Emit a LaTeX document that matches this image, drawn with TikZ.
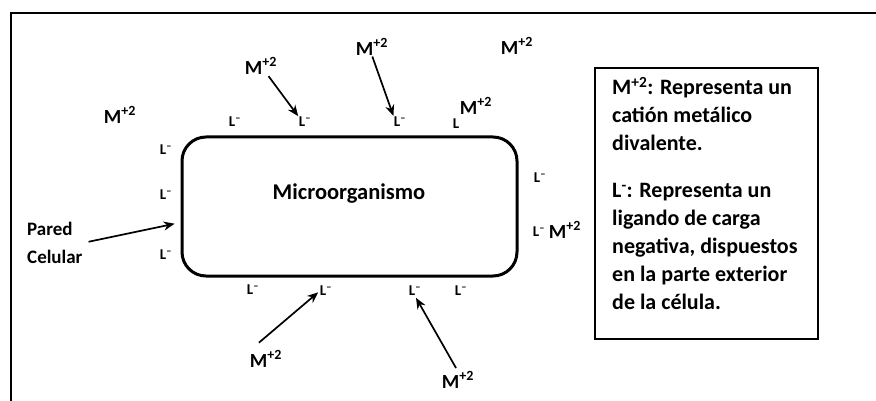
\documentclass[tikz,border=0pt]{standalone}
\usepackage{fontspec}
\setmainfont{Carlito}
\usetikzlibrary{arrows.meta}
\begin{document}
\begin{tikzpicture}[x=1pt,y=-1pt,
  ion/.style={font=\fontsize{20}{22}\selectfont\bfseries, inner sep=0pt},
  lig/.style={font=\fontsize{15}{17}\selectfont\bfseries, inner sep=0pt},
  arr/.style={-{Stealth[length=11pt,width=9pt]}, line width=1.7pt},
  txt/.style={font=\fontsize{22}{28}\selectfont\bfseries, inner sep=0pt, align=left},
]
\useasboundingbox (0,0) rectangle (876,401);
% outer frame (cropped)
\draw[line width=2.5pt] (890,13) -- (11,13) -- (11,415);
% cell
\node[draw, line width=3pt, rounded corners=24pt, minimum width=335pt, minimum height=139pt, inner sep=0pt] (cell) at (349.5,206.5) {};
\node[font=\fontsize{22.5}{24}\selectfont\bfseries, inner sep=0pt] (micro) at (349,194) {Microorganismo};
% legend
\node[draw, line width=1.6pt, minimum width=223pt, minimum height=271pt, inner sep=0pt] (legend) at (706.5,203.5) {};
\node[txt, anchor=north west] (legtext) at (612,77) {M\textsuperscript{+2}: Representa un\\cati\'on met\'alico\\divalente.\\[19pt]L\textsuperscript{-}: Representa un\\ligando de carga\\negativa, dispuestos\\en la parte exterior\\de la c\'elula.};
% ions
\node[ion] (m1) at (261,66) {M\textsuperscript{+2}};
\node[ion] (m2) at (372,47) {M\textsuperscript{+2}};
\node[ion] (m3) at (517,46) {M\textsuperscript{+2}};
\node[ion] (m4) at (120,115) {M\textsuperscript{+2}};
\node[ion] (m5) at (476,106) {M\textsuperscript{+2}};
\node[ion] (m6) at (266,359) {M\textsuperscript{+2}};
\node[ion] (m7) at (458,380) {M\textsuperscript{+2}};
\node[ion] (m8) at (565,230) {M\textsuperscript{+2}};
% ligands
\node[lig] (l1) at (235,122) {L\textsuperscript{\textendash}};
\node[lig] (l2) at (305,122) {L\textsuperscript{\textendash}};
\node[lig] (l3) at (400,122) {L\textsuperscript{\textendash}};
\node[lig] (l4) at (456,124) {L};
\node[lig] (l5) at (166,150) {L\textsuperscript{\textendash}};
\node[lig] (l6) at (166,195) {L\textsuperscript{\textendash}};
\node[lig] (l7) at (166,255) {L\textsuperscript{\textendash}};
\node[lig] (l8) at (540,178) {L\textsuperscript{\textendash}};
\node[lig] (l9) at (539,232) {L\textsuperscript{\textendash}};
\node[lig] (l10) at (253,290) {L\textsuperscript{\textendash}};
\node[lig] (l11) at (326,291) {L\textsuperscript{\textendash}};
\node[lig] (l12) at (415,291) {L\textsuperscript{\textendash}};
\node[lig] (l13) at (461,291) {L\textsuperscript{\textendash}};
% pared celular
\node[font=\fontsize{19}{28}\selectfont\bfseries, inner sep=0pt, align=left, anchor=west] (pared) at (27,243) {Pared\\Celular};
% arrows
\draw[arr, shorten <=2pt, shorten >=1pt] (m1) -- (l2.north west);
\draw[arr, shorten <=1pt, shorten >=1pt] (m2.south) -- (l3.north west);
\draw[arr, shorten <=6pt, shorten >=6pt] (pared.east) -- ([yshift=-16pt]cell.west);
\draw[arr, shorten <=12pt, shorten >=2pt] (m6.north west) -- (l11.west);
\draw[arr, shorten <=4pt, shorten >=2pt] (m7.north) -- (l12.south);
\end{tikzpicture}
\end{document}
